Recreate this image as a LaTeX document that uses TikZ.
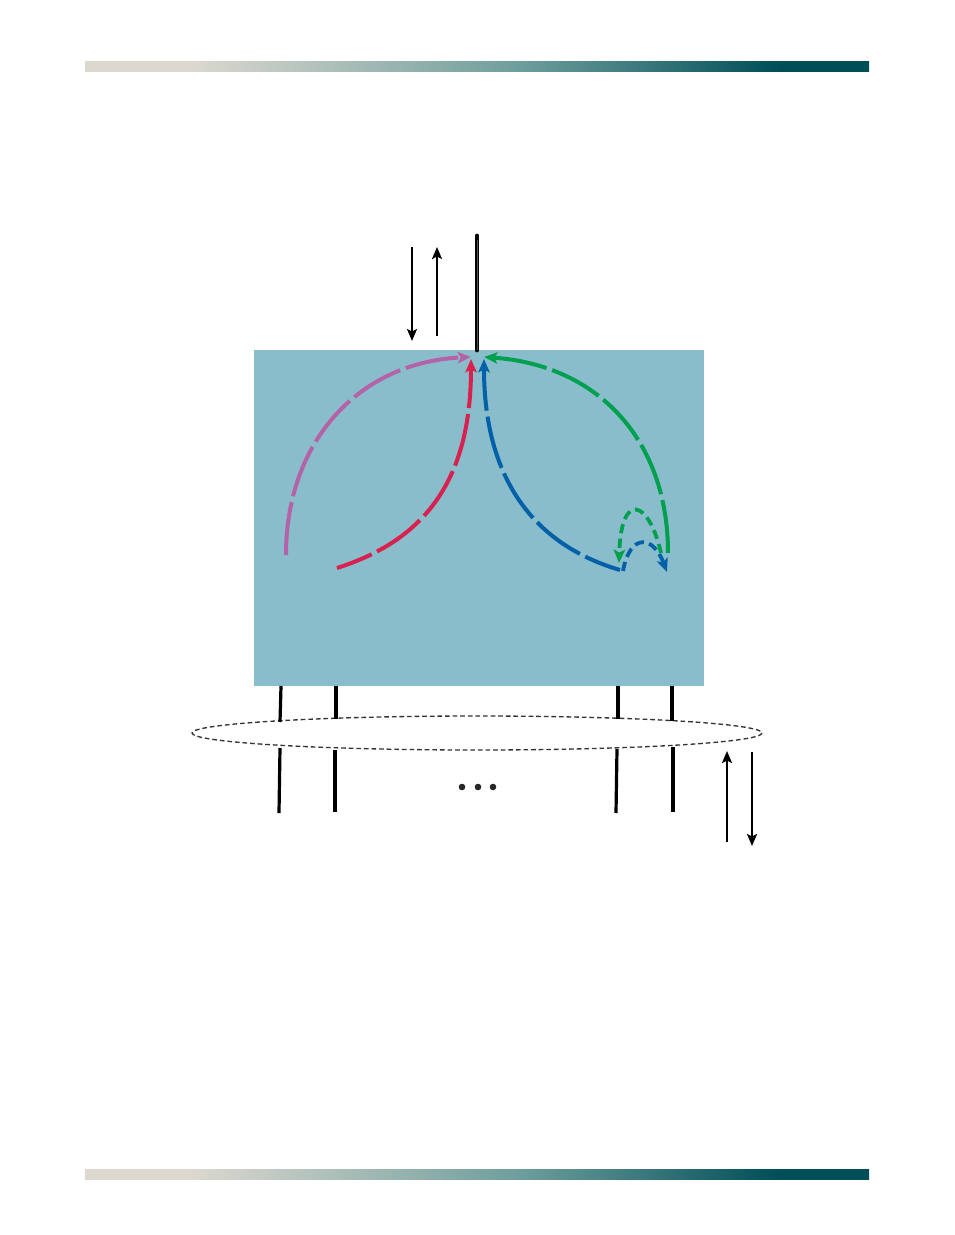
\documentclass[tikz,border=0pt]{standalone}
\usetikzlibrary{arrows.meta}
\definecolor{boxblue}{HTML}{8ABDCB}
\definecolor{magc}{HTML}{B463A8}
\definecolor{redc}{HTML}{D92150}
\definecolor{bluec}{HTML}{0060A8}
\definecolor{greenc}{HTML}{00A04E}
\definecolor{barL}{HTML}{DCD8CF}
\definecolor{barM}{HTML}{6E9E9C}
\definecolor{barR}{HTML}{004E58}
\pgfdeclarehorizontalshading{barshade}{100bp}{color(0bp)=(barL); color(31.7bp)=(barL); color(52.7bp)=(barM); color(69.3bp)=(barR); color(100bp)=(barR)}
\tikzset{
  bigdash/.style={line width=3pt, dash pattern=on 40pt off 4.5pt},
  smalldash/.style={line width=2.8pt, dash pattern=on 7pt off 4pt},
  ctip/.style={-{Stealth[length=10pt,width=8.5pt,inset=2.2pt]}},
  btip/.style={-{Stealth[length=9pt,width=7.5pt,inset=1.8pt]}, line width=1.5pt},
  wire/.style={line width=2.4pt},
}
\begin{document}
\begin{tikzpicture}[x=0.75pt,y=-0.75pt]
\useasboundingbox (0,0) rectangle (954,1235);
% header and footer bars
\foreach \y in {61,1169}{
  \shade[shading=barshade] (85,\y) rectangle (869,\y+10);
}
% box
\fill[boxblue] (254,350) rectangle (704,686);
% antenna
\coordinate (antT) at (477,236);
\coordinate (antB) at (477,350);
\draw[line width=3.6pt,line cap=round] (antT) -- (antB);
\draw[line width=0.7pt,black!70] (477,240) -- (antB);
% top arrows
\coordinate (dA1) at (412,247); \coordinate (dA2) at (412,341);
\coordinate (uA1) at (437,336); \coordinate (uA2) at (437,247);
\draw[btip] (dA1) -- (dA2);
\draw[btip] (uA1) -- (uA2);
% hub points
\coordinate (mS) at (286,555);   \coordinate (mE) at (471,357);
\coordinate (rS) at (337,568);   \coordinate (rE) at (471,359);
\coordinate (bS) at (620,570);   \coordinate (bE) at (484,359);
\coordinate (gS) at (668,553);   \coordinate (gE) at (484,357);
% big curves
\draw[magc,bigdash,ctip] (mS) .. controls (286,440) and (360,362) .. (mE);
\draw[redc,bigdash,ctip,dash phase=12pt] (rS) .. controls (425,540) and (471,480) .. (rE);
\draw[bluec,bigdash,ctip,dash phase=12pt] (bS) .. controls (535,545) and (484,480) .. (bE);
\draw[greenc,bigdash,ctip] (gS) .. controls (668,440) and (598,365) .. (gE);
% small loops
\coordinate (sgS) at (661,553); \coordinate (sgE) at (619,563);
\coordinate (sbS) at (623,571); \coordinate (sbE) at (667,572);
\draw[greenc,smalldash,ctip] (sgS) .. controls (649,500) and (621,490) .. (sgE);
\draw[bluec,smalldash,ctip] (sbS) .. controls (630,533) and (653,535) .. (sbE);
% ellipse
\coordinate (ell) at (477,733);
\draw[black!80,line width=1pt,dash pattern=on 3.5pt off 2.2pt] (ell) ellipse [x radius=285, y radius=17];
% wires
\draw[wire] (281,686) -- (280,722);
\draw[wire] (336,686) -- (336,719);
\draw[wire] (618,686) -- (618,719);
\draw[wire] (672,686) -- (672,721);
\draw[wire] (280,748) -- (279,813);
\draw[wire] (335,750) -- (335,812);
\draw[wire] (617,749) -- (616,813);
\draw[wire] (673,747) -- (673,812);
% dots
\foreach \x in {462,478,493} \fill[black!85] (\x,787) circle [radius=3.3];
% bottom arrows
\coordinate (uB1) at (727,842); \coordinate (uB2) at (727,751);
\coordinate (dB1) at (752,752); \coordinate (dB2) at (752,846);
\draw[btip] (uB1) -- (uB2);
\draw[btip] (dB1) -- (dB2);
\end{tikzpicture}
\end{document}
